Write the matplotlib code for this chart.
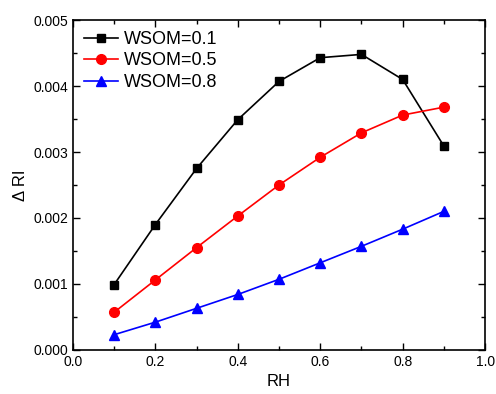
import numpy as np
import matplotlib.pyplot as plt
from matplotlib.ticker import MultipleLocator

plt.rcParams['font.family'] = ['Liberation Sans', 'DejaVu Sans']

# data
rh = [0.1, 0.2, 0.3, 0.4, 0.5, 0.6, 0.7, 0.8, 0.9]
wsom_01 = [0.00099, 0.00190, 0.00275, 0.00349, 0.00407, 0.00443, 0.00448, 0.00410, 0.00309]
wsom_05 = [0.00057, 0.00106, 0.00155, 0.00203, 0.00250, 0.00292, 0.00329, 0.00356, 0.00368]
wsom_08 = [0.00023, 0.00042, 0.00063, 0.00084, 0.00107, 0.00132, 0.00157, 0.00183, 0.00210]

fig = plt.figure(figsize=(4.96, 3.94), dpi=100)
ax = fig.add_axes([0.147, 0.112, 0.831, 0.837])

ax.plot(rh, wsom_01, color='black', marker='s', markersize=6, linewidth=1.2, label='WSOM=0.1')
ax.plot(rh, wsom_05, color='red', marker='o', markersize=7, linewidth=1.2, label='WSOM=0.5')
ax.plot(rh, wsom_08, color='blue', marker='^', markersize=7, linewidth=1.2, label='WSOM=0.8')

ax.set_xlim(0.0, 1.0)
ax.set_ylim(0.0, 0.005)
ax.xaxis.set_major_locator(MultipleLocator(0.2))
ax.xaxis.set_minor_locator(MultipleLocator(0.1))
ax.yaxis.set_major_locator(MultipleLocator(0.001))
ax.yaxis.set_minor_locator(MultipleLocator(0.0005))
ax.xaxis.set_major_formatter(plt.FuncFormatter(lambda v, p: f"{v:.1f}"))
ax.yaxis.set_major_formatter(plt.FuncFormatter(lambda v, p: f"{v:.3f}"))

ax.tick_params(which='both', direction='in', top=True, right=True, labelsize=10)
ax.tick_params(which='major', length=5, width=1)
ax.tick_params(which='minor', length=3, width=1)
for s in ax.spines.values():
    s.set_linewidth(1.2)

ax.set_xlabel('RH', fontsize=12)
ax.set_ylabel('Δ RI', fontsize=12)

ax.legend(loc='upper left', frameon=False, fontsize=13, handlelength=1.9,
          borderaxespad=0.2, labelspacing=0.25, handletextpad=0.35)

fig.savefig('out.png', dpi=100)
